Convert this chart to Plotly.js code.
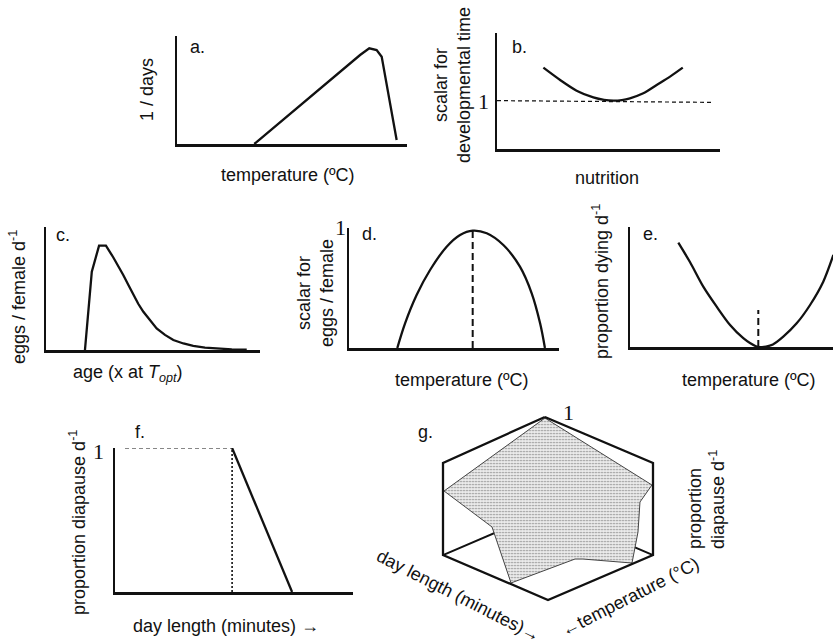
<!DOCTYPE html>
<html>
<head>
<meta charset="utf-8">
<script src="https://cdn.plot.ly/plotly-3.0.1.min.js"></script>
<style>html,body{margin:0;padding:0;background:#fff;}#chart{width:833px;height:641px;}</style>
</head>
<body>
<div id="chart"></div>
<script>
// ---- panel a: development rate vs temperature ----
const aTemp = [33.6, 79.6, 83.6, 86.8, 89.0, 95.5];
const aRate = [0, 82.4, 88.6, 87.0, 80.8, 3.7];

// ---- panel b: scalar for developmental time vs nutrition ----
const bNutrition = [20.8, 28.3, 35.7, 43.2, 48.0, 52.2, 56.0, 59.6, 65.6, 71.6, 77.6, 83.3];
const bScalar = [70.1, 59.5, 50.3, 44.5, 42.4, 41.7, 42.2, 43.7, 48.0, 55.2, 62.4, 70.1];
const bRefX = [0, 96.4];
const bRefY = [41.7, 40.2];

// ---- panel c: eggs / female / day vs age ----
const cAge = [18.2, 21.4, 24.8, 28.0, 31.4, 33.8, 36.1, 38.5, 40.8, 43.1, 45.5, 48.6, 51.7, 55.6, 59.5, 64.2, 68.8, 74.3, 79.8, 86.8, 93.8];
const cEggs = [0, 63.7, 84.8, 84.8, 75.4, 68.4, 61.0, 52.8, 44.7, 37.6, 31.1, 23.9, 17.6, 12.3, 8.1, 5.3, 3.3, 2.0, 1.1, 0.5, 0.2];

// ---- panel d: scalar for eggs / female vs temperature ----
const dTemp = [23.0, 26.7, 32.2, 38.6, 46.5, 52.9, 58.9, 65.6, 73.5, 81.4, 87.0, 91.0, 93.3];
const dScalar = [0, 20.6, 44.2, 65, 84.4, 94.2, 97.8, 95.6, 85.8, 67.8, 45.6, 20.6, 0];
const dOptX = [58.9, 58.9];
const dOptY = [0, 97.8];

// ---- panel e: proportion dying vs temperature ----
const eTemp = [23.8, 29.6, 36.1, 42.7, 49.3, 55.8, 59.1, 63.1, 67.0, 70.4, 75.5, 82.1, 88.7, 95.2, 100.2];
const eDying = [86.9, 70.6, 50.3, 33.6, 18.3, 7.3, 3.3, 0, 0.4, 2.1, 8.6, 19.7, 35, 54.4, 76.7];
const eOptX = [63.2, 63.2];
const eOptY = [0, 30.8];

// ---- panel f: proportion diapause vs day length ----
const fPlateauX = [4.2, 49.2];
const fPlateauY = [100, 100];
const fCritX = [49.2, 49.2];
const fCritY = [0, 100];
const fDropX = [49.2, 74.4];
const fDropY = [100, 0];

// ---- panel g: projected box and response surface (projected units) ----
const gHexX = [-0.03, -1.0, -1.0, 0.0, 1.0, 1.0, -0.03];
const gHexY = [0.886, 0.448, -0.429, -0.857, -0.429, 0.448, 0.886];
const gFloorX = [-1.0, 0.0, 1.0];
const gFloorY = [-0.429, 0.0, -0.429];
const gSurfX = [-0.029, -0.990, -0.533, -0.352, 0.257, 0.333, 0.800, 0.857, 0.876, 0.990, -0.029];
const gSurfY = [0.876, 0.181, -0.162, -0.695, -0.467, -0.467, -0.505, -0.210, 0.076, 0.238, 0.876];

const W = 833, H = 641;
const FONT = 'Liberation Sans, Arial, sans-serif';
const SERIF = 'Liberation Serif, Times New Roman, serif';
const INK = '#111';

function fx(px) { return px / W; }
function fy(py) { return 1 - py / H; }

function axPair(n, x0, x1, yTop, yBot, showLine, xr, yr) {
  const xs = n === 1 ? '' : n, key = n === 1 ? '' : n;
  const base = {showgrid: false, zeroline: false, showticklabels: false, ticks: '', fixedrange: true,
    showline: showLine, linecolor: INK, linewidth: 2.5};
  const o = {};
  o['xaxis' + key] = Object.assign({}, base, {domain: [fx(x0), fx(x1)], range: xr, anchor: 'y' + xs});
  o['yaxis' + key] = Object.assign({}, base, {domain: [fy(yBot), fy(yTop)], range: yr, anchor: 'x' + xs});
  return o;
}

const layout = Object.assign({
  width: W, height: H,
  margin: {l: 0, r: 0, t: 0, b: 0},
  paper_bgcolor: '#fff', plot_bgcolor: 'rgba(0,0,0,0)',
  showlegend: false,
  font: {family: FONT, color: INK, size: 18},
  annotations: []
},
  axPair(1, 177, 407, 36, 144, true, [0, 100], [0, 100]),
  axPair(2, 497, 720, 33, 149, true, [0, 100], [0, 100]),
  axPair(3, 46, 260, 227, 350, true, [0, 100], [0, 100]),
  axPair(4, 349, 559, 228, 348, true, [0, 100], [0, 100]),
  axPair(5, 630, 833, 227, 347, true, [0, 100], [0, 100]),
  axPair(6, 115, 353, 448, 592, true, [0, 100], [0, 100]),
  axPair(7, 390.5, 705.5, 405, 615, false, [-1.5, 1.5], [-1, 1])
);

function line(x, y, n, opts) {
  const k = n === 1 ? '' : n;
  return Object.assign({x: x, y: y, xaxis: 'x' + k, yaxis: 'y' + k, mode: 'lines', cliponaxis: false,
    hoverinfo: 'skip', line: {color: INK, width: 2.3}}, opts || {});
}

const data = [
  line(aTemp, aRate, 1),
  line(bRefX, bRefY, 2, {line: {color: INK, width: 1.2, dash: '4px,3px'}}),
  line(bNutrition, bScalar, 2, {line: {color: INK, width: 2.3, shape: 'spline', smoothing: 0.8}}),
  line(cAge, cEggs, 3),
  line(dTemp, dScalar, 4, {line: {color: INK, width: 2.3, shape: 'spline'}}),
  line(dOptX, dOptY, 4, {line: {color: INK, width: 2, dash: '7px,4px'}}),
  line(eTemp, eDying, 5, {line: {color: INK, width: 2.3, shape: 'spline', smoothing: 0.8}}),
  line(eOptX, eOptY, 5, {line: {color: INK, width: 2, dash: '7px,4px'}}),
  line(fPlateauX, fPlateauY, 6, {line: {color: INK, width: 1.2, dash: '4px,3px'}}),
  line(fCritX, fCritY, 6, {line: {color: INK, width: 1.6, dash: '2px,2px'}}),
  line(fDropX, fDropY, 6),
  line(gFloorX, gFloorY, 7, {line: {color: INK, width: 2}}),
  line(gSurfX, gSurfY, 7, {fill: 'toself', fillcolor: '#e8e8e8',
    fillpattern: {shape: '.', bgcolor: '#ececec', fgcolor: '#8a8a8a', size: 3, solidity: 0.25},
    line: {color: '#444', width: 1}}),
  line(gHexX, gHexY, 7, {line: {color: INK, width: 2.3}})
];

function ann(text, px, py, opts) {
  layout.annotations.push(Object.assign({text: text, x: fx(px), y: fy(py), xref: 'paper', yref: 'paper',
    showarrow: false, xanchor: 'center', yanchor: 'middle', font: {family: FONT, size: 18, color: INK}}, opts || {}));
}

// panel letters
ann('a.', 197, 47); ann('b.', 519, 47); ann('c.', 63, 235); ann('d.', 369, 234);
ann('e.', 650, 234); ann('f.', 140, 432); ann('g.', 425, 432);

// serif "1" labels
const serifOne = {font: {family: SERIF, size: 22, color: INK}};
ann('1', 483, 101, serifOne); ann('1', 340, 227, serifOne); ann('1', 98, 451, serifOne); ann('1', 568, 412, serifOne);

// axis titles
ann('temperature (ºC)', 288, 175);
ann('1 / days', 147, 90, {textangle: -90});
ann('nutrition', 607, 178);
ann('scalar for<br>developmental time', 453, 85, {textangle: -90});
ann('age (x at <i>T</i><sub><i>opt</i></sub>)', 128, 373);
ann('eggs / female d<sup>-1</sup>', 18, 297, {textangle: -90});
ann('temperature (ºC)', 462, 380);
ann('scalar for<br>eggs / female', 315, 293, {textangle: -90});
ann('temperature (ºC)', 749, 380);
ann('proportion dying d<sup>-1</sup>', 600, 282, {textangle: -90});
ann('day length (minutes) →', 226, 626);
ann('proportion diapause d<sup>-1</sup>', 77, 523, {textangle: -90});
ann('proportion<br>diapause d<sup>-1</sup>', 706, 500, {textangle: -90, align: 'left'});
ann('day length (minutes)→', 459, 596, {textangle: 27});
ann('←temperature (°C)', 630, 597, {textangle: -27});

Plotly.newPlot('chart', data, layout, {staticPlot: true, displayModeBar: false});
</script>
</body>
</html>
